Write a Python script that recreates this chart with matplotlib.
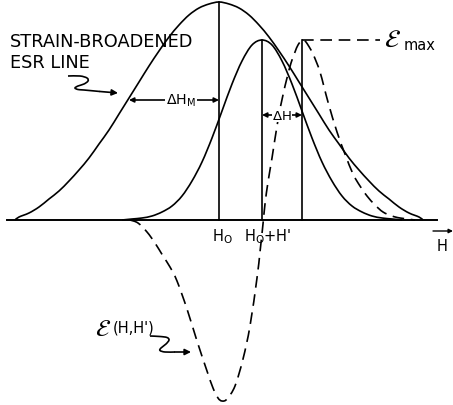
import matplotlib
matplotlib.use("Agg")
import matplotlib.pyplot as plt
from matplotlib.path import Path
from matplotlib.patches import PathPatch

# ---- data (x in field units, y in amplitude units) ----
broad_x = [15, 19, 29, 39, 49, 59, 69, 79, 89, 99, 109, 119, 129, 139, 149, 159, 169, 179, 189, 199, 209,
           219,
           229, 239, 249, 259, 269, 279, 289, 299, 309, 319, 329, 339, 349, 359, 369, 379, 389, 399, 409, 419, 423]
broad_y = [0, 3, 7, 13, 21, 29, 39, 50, 62, 76, 90, 106, 122, 138, 154, 169, 183, 195, 205, 212, 216,
           218,
           216, 212, 205, 195, 183, 169, 154, 138, 122, 106, 90, 76, 62, 50, 39, 29, 21, 13, 7, 3, 0]

narrow_x = [122, 132, 142, 152, 162, 172, 182, 192, 202, 212, 222, 232, 242, 252,
            262,
            272, 282, 292, 302, 312, 322, 332, 342, 352, 362, 372, 382, 392, 402]
narrow_y = [0, 1, 2, 4, 8, 14, 24, 39, 58, 82, 109, 136, 159, 175,
            180,
            175, 159, 136, 109, 82, 58, 39, 24, 14, 8, 4, 2, 1, 0]

eps_x = [130, 138, 147, 155, 163, 170, 177, 187, 197, 207, 213, 218, 222, 227, 235, 243, 250, 257, 260,
         263, 265, 268, 272, 278, 283, 287, 291, 295, 298, 302, 305, 308, 313, 320, 328, 337, 345, 353,
         360, 367, 375, 383, 392, 400, 415]
eps_y = [0, -3, -12, -23, -36, -47, -61, -89, -121, -151, -168, -178, -181, -179, -166, -139, -106, -58, -32,
         -4, 16, 38, 62, 100, 125, 142, 157, 168, 175, 180, 179, 175, 166, 148, 118, 88, 66, 46,
         34, 24, 15, 8, 4, 2, 0]

H0 = 219          # centre of strain-broadened line
H0_Hp = 262       # centre of narrow line
H_epsmax = 302    # position of epsilon max
amp_broad = 218
amp_narrow = 180
eps_max = 180


def smooth_path(xs, ys):
    """Path through the read points, drawn with cubic Bezier segments (Catmull-Rom tangents)."""
    pts = list(zip(xs, ys))
    verts = [pts[0]]
    codes = [Path.MOVETO]
    n = len(pts)
    for i in range(n - 1):
        p0 = pts[i - 1] if i > 0 else pts[i]
        p1 = pts[i]
        p2 = pts[i + 1]
        p3 = pts[i + 2] if i + 2 < n else pts[i + 1]
        c1 = (p1[0] + (p2[0] - p0[0]) / 6.0, p1[1] + (p2[1] - p0[1]) / 6.0)
        c2 = (p2[0] - (p3[0] - p1[0]) / 6.0, p2[1] - (p3[1] - p1[1]) / 6.0)
        verts += [c1, c2, p2]
        codes += [Path.CURVE4] * 3
    return Path(verts, codes)


# ---- figure ----
fig = plt.figure(figsize=(4.53, 4.06), dpi=100)
ax = fig.add_axes([0, 0, 1, 1])
ax.set_xlim(0, 453)
ax.set_ylim(-185, 221)
ax.axis('off')

lw = 1.2
k = 'black'
dash = (0, (7, 4))

# baseline
ax.plot([7, 437], [0, 0], color=k, lw=1.4)

# curves
ax.add_patch(PathPatch(smooth_path(broad_x, broad_y), fill=False, edgecolor=k, lw=lw))
ax.add_patch(PathPatch(smooth_path(narrow_x, narrow_y), fill=False, edgecolor=k, lw=lw))
ax.add_patch(PathPatch(smooth_path(eps_x, eps_y), fill=False, edgecolor=k, lw=lw, linestyle=dash))

# vertical markers
ax.plot([H0, H0], [0, amp_broad], color=k, lw=lw)
ax.plot([H0_Hp, H0_Hp], [0, amp_narrow], color=k, lw=lw)
ax.plot([H_epsmax, H_epsmax], [0, eps_max], color=k, lw=lw)

# epsilon max dashed level
ax.plot([H_epsmax, 380], [eps_max, eps_max], color=k, lw=lw, linestyle=dash)

fs = 12.8
# labels
ax.text(10, 179, "STRAIN-BROADENED", fontsize=fs, ha='left', va='center')
ax.text(10, 158, "ESR LINE", fontsize=fs, ha='left', va='center')

# squiggle arrow for ESR line
sq1_x = [68, 80, 87, 88, 84, 78, 75, 78, 84, 100]
sq1_y = [144, 144, 142, 139, 136, 134, 132, 130.5, 130, 128.5]
ax.add_patch(PathPatch(smooth_path(sq1_x, sq1_y), fill=False, edgecolor=k, lw=lw))
ax.annotate("", xy=(118, 127), xytext=(100, 128.5),
            arrowprops=dict(arrowstyle='-|>', lw=lw, color=k, mutation_scale=9, shrinkA=0, shrinkB=0))

# Delta H_M arrow
ax.annotate("", xy=(129, 120), xytext=(H0, 120),
            arrowprops=dict(arrowstyle='<|-|>', lw=lw, color=k, mutation_scale=7, shrinkA=0, shrinkB=0))
ax.text(181, 120, r"$\Delta$H$_{\mathrm{M}}$", fontsize=10.2, ha='center', va='center',
        bbox=dict(facecolor='white', edgecolor='none', pad=1.0))

# Delta H arrow
ax.annotate("", xy=(H0_Hp, 105), xytext=(H_epsmax, 105),
            arrowprops=dict(arrowstyle='<|-|>', lw=lw, color=k, mutation_scale=7, shrinkA=0, shrinkB=0))
ax.text(282, 105, r"$\Delta$H", fontsize=9.5, ha='center', va='center',
        bbox=dict(facecolor='white', edgecolor='none', pad=0.3))

# epsilon max label
ax.text(384, 181, r"$\mathcal{E}$", fontsize=18, ha='left', va='center')
ax.text(404, 175, "max", fontsize=10.5, ha='left', va='center')

# axis labels
ax.text(H0 + 3, -16, r"H$_{\mathrm{O}}$", fontsize=10.5, ha='center', va='center')
ax.text(268, -16, r"H$_{\mathrm{O}}$+H'", fontsize=10.5, ha='center', va='center')
ax.text(442, -26, "H", fontsize=10.5, ha='center', va='center')
ax.annotate("", xy=(453, -11), xytext=(433, -11),
            arrowprops=dict(arrowstyle='-|>', lw=1.0, color=k, mutation_scale=6, shrinkA=0, shrinkB=0))

# epsilon(H,H') label
ax.text(95, -108, r"$\mathcal{E}$", fontsize=17, ha='left', va='center')
ax.text(113, -107, "(H,H')", fontsize=10.5, ha='left', va='center')
sq2_x = [150, 160, 167, 169, 166, 161, 160, 165, 175]
sq2_y = [-116, -116.5, -117.5, -120, -124, -128, -130.5, -132, -132]
ax.add_patch(PathPatch(smooth_path(sq2_x, sq2_y), fill=False, edgecolor=k, lw=lw))
ax.annotate("", xy=(191, -132), xytext=(175, -132),
            arrowprops=dict(arrowstyle='-|>', lw=lw, color=k, mutation_scale=9, shrinkA=0, shrinkB=0))

fig.savefig("out.png", dpi=100)
